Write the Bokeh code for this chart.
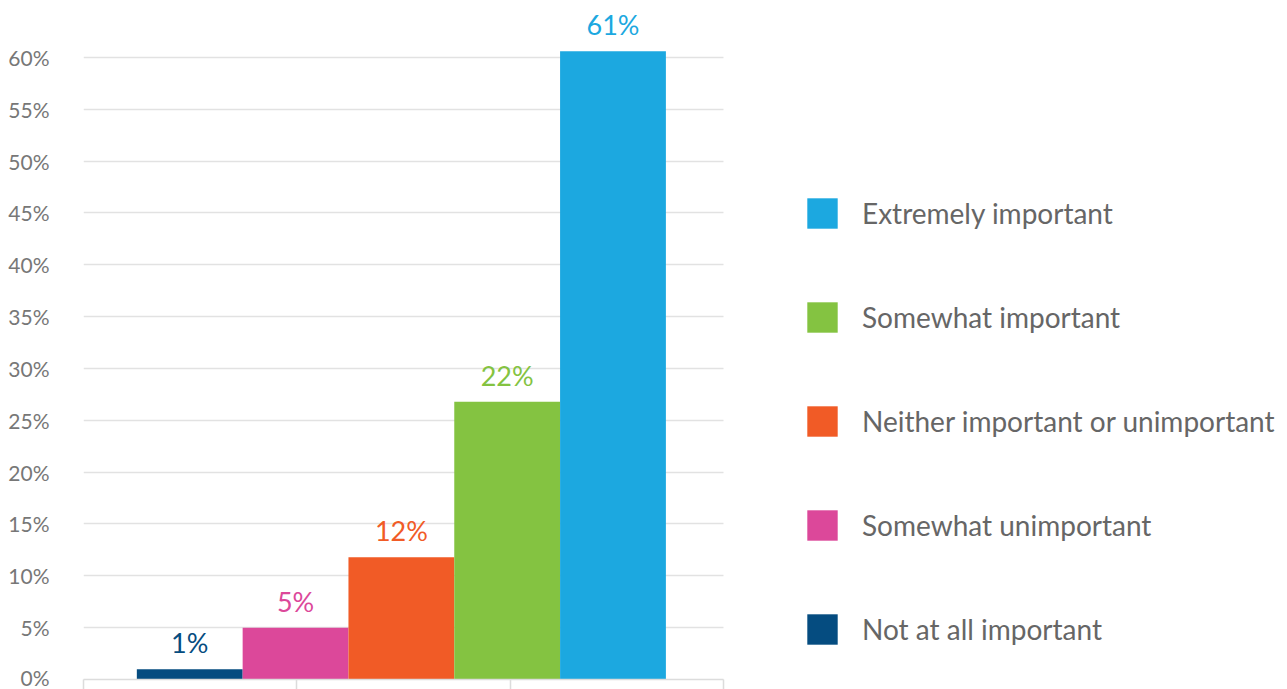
from bokeh.plotting import figure
from bokeh.models import ColumnDataSource, Legend, LegendItem, FixedTicker, PrintfTickFormatter, Range1d
from bokeh.core.properties import value
from bokeh.embed import file_html
from bokeh.resources import INLINE

categories = ["Not at all important", "Somewhat unimportant", "Neither important or unimportant",
              "Somewhat important", "Extremely important"]
values = [1.0, 5.0, 11.8, 26.8, 60.6]
labels = ["1%", "5%", "12%", "22%", "61%"]
colors = ["#054c80", "#dc489a", "#f15b26", "#84c341", "#1ca8e0"]
y_ticks = [0, 5, 10, 15, 20, 25, 30, 35, 40, 45, 50, 55, 60]

FONT = "Lato"
BAR_W = 0.496

p = figure(width=1280, height=689, output_backend="svg", toolbar_location=None,
           x_range=Range1d(0, 5.611), y_range=Range1d(0, 64.53),
           min_border_left=83, min_border_right=0, min_border_top=10, min_border_bottom=10)
p.outline_line_color = None
p.background_fill_color = "white"

renderers = []
for i, (cat, v, lab, c) in enumerate(zip(categories, values, labels, colors)):
    src = ColumnDataSource(dict(x=[0.25 + BAR_W / 2 + BAR_W * i], top=[v], lab=[lab]))
    r = p.vbar(x="x", top="top", width=BAR_W, bottom=0, source=src, fill_color=c, line_color=None)
    p.text(x="x", y="top", text="lab", source=src, text_color=c, text_align="center",
           text_baseline="bottom", y_offset=-10, text_font=value(FONT), text_font_size="27px")
    renderers.append((cat, r))

items = [LegendItem(label=cat, renderers=[r]) for cat, r in reversed(renderers)]
legend = Legend(items=items, location=(720, 31), orientation="vertical",
                glyph_width=38, glyph_height=38, label_height=30, spacing=66,
                label_standoff=21, padding=0, margin=0,
                label_text_font=FONT, label_text_font_size="28px", label_text_color="#666666",
                border_line_color=None, background_fill_color=None, background_fill_alpha=0)
p.add_layout(legend, "center")

p.xgrid.visible = False
p.ygrid.grid_line_color = "#e2e2e2"
p.ygrid.grid_line_width = 1.5
p.ygrid.ticker = FixedTicker(ticks=y_ticks)
p.ygrid.cross_bounds = (0, 3)

p.yaxis.ticker = FixedTicker(ticks=y_ticks)
p.yaxis.formatter = PrintfTickFormatter(format="%d%%")
p.yaxis.axis_line_color = None
p.yaxis.major_tick_line_color = None
p.yaxis.minor_tick_line_color = None
p.yaxis.major_tick_out = 0
p.yaxis.major_tick_in = 0
p.yaxis.major_label_standoff = 34
p.yaxis.major_label_text_font = FONT
p.yaxis.major_label_text_font_size = "21px"
p.yaxis.major_label_text_color = "#777777"

p.xaxis.ticker = FixedTicker(ticks=[], minor_ticks=[0, 1, 2, 3])
p.xaxis.bounds = (0, 3)
p.xaxis.axis_line_color = "#dcdcdc"
p.xaxis.axis_line_width = 1.5
p.xaxis.major_tick_line_color = None
p.xaxis.minor_tick_line_color = "#dcdcdc"
p.xaxis.minor_tick_line_width = 1.5
p.xaxis.minor_tick_out = 10
p.xaxis.minor_tick_in = 0

open("out.html", "w").write(file_html(p, INLINE))
